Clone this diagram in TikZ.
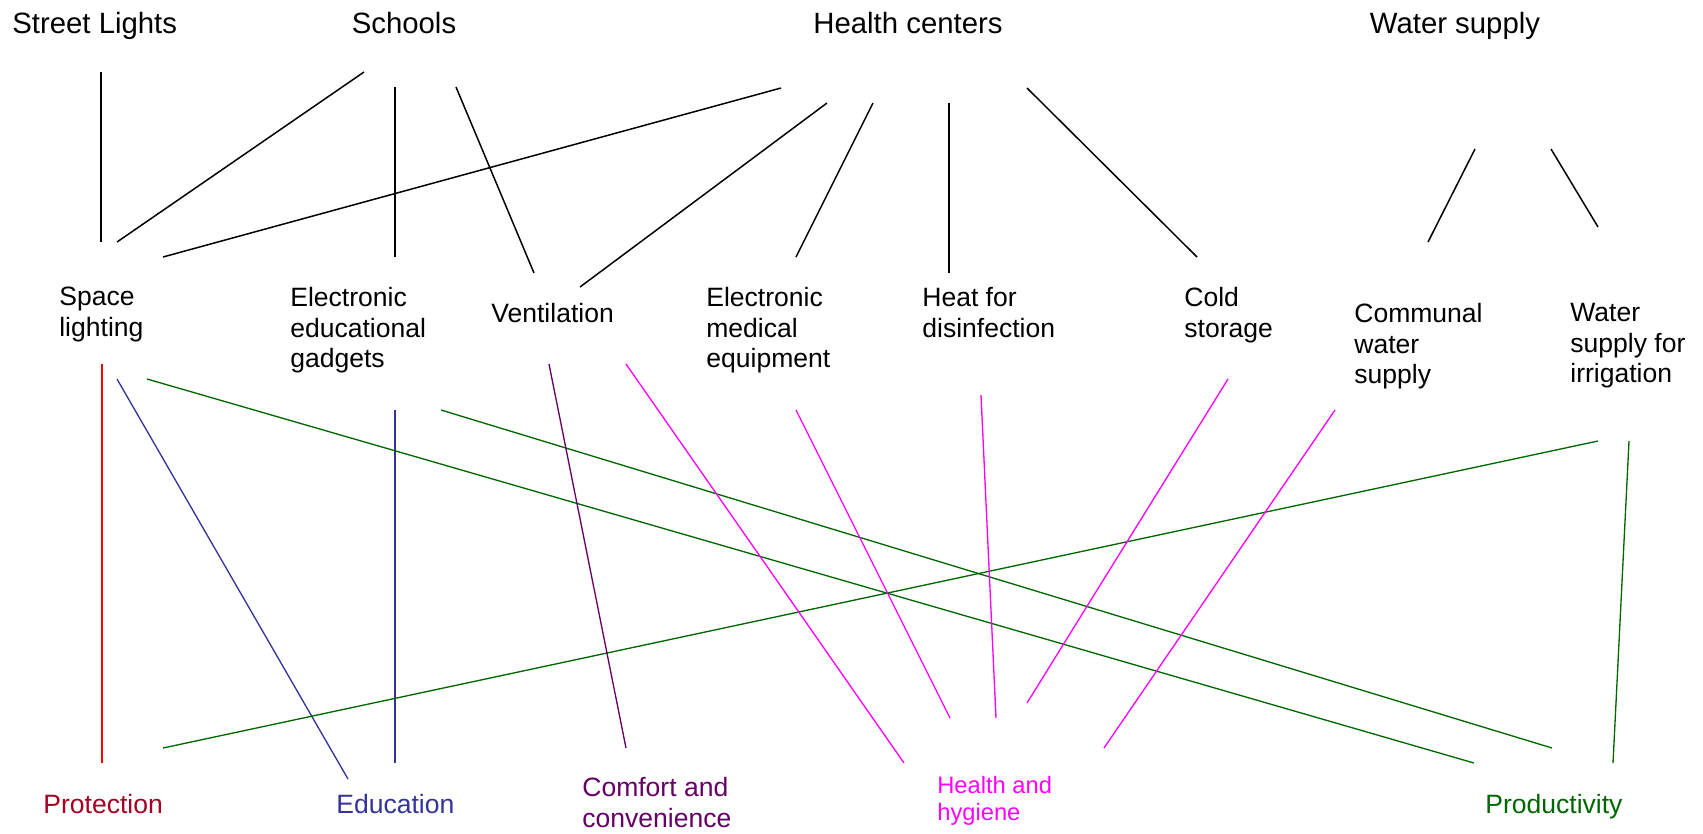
\documentclass[tikz,border=0pt]{standalone}
\usepackage{fontspec}
\setmainfont{Liberation Sans}
\usepackage{tikz}
\definecolor{protred}{RGB}{165,0,33}
\definecolor{edublue}{RGB}{51,51,153}
\definecolor{comfpurple}{RGB}{102,0,102}
\definecolor{hygpink}{RGB}{255,0,255}
\definecolor{prodgreen}{RGB}{0,102,0}

\begin{document}
\begin{tikzpicture}[x=0.02cm, y=-0.02cm,
    source/.style={font=\fontsize{16.7}{19.2}\selectfont, inner sep=0pt, anchor=north},
    usage/.style={font=\fontsize{15.1}{17.4}\selectfont, inner sep=0pt, anchor=north west, align=left},
    benefit/.style={usage},
    tie/.style={line width=0.85pt},
    link/.style={line width=0.75pt}]
    \useasboundingbox (0,0) rectangle (1703,833);

    % facilities
    \node[source, anchor=north west] (lights) at (12,12) {Street Lights};
    \node[source] (schools) at (404,12) {Schools};
    \node[source] (centers) at (908,12) {Health centers};
    \node[source] (water) at (1455,12) {Water supply};

    % energy uses
    \node[usage] (space) at (59,287) {Space\\lighting};
    \node[usage] (gadgets) at (290,287) {Electronic\\educational\\gadgets};
    \node[usage] (vent) at (491,303) {Ventilation};
    \node[usage] (medical) at (706,287) {Electronic\\medical\\equipment};
    \node[usage] (heat) at (922,287) {Heat for\\disinfection};
    \node[usage] (cold) at (1184,287) {Cold\\storage};
    \node[usage] (comm) at (1354,303) {Communal\\water\\supply};
    \node[usage] (irr) at (1570,303) {Water\\supply for\\irrigation};

    % benefits
    \node[benefit, text=protred] (prot) at (43,794) {Protection};
    \node[benefit, text=edublue] (edu) at (336,794) {Education};
    \node[benefit, text=comfpurple] (comf) at (582,777) {Comfort and\\convenience};
    \node[benefit, text=hygpink, font=\fontsize{13.5}{15.4}\selectfont] (hyg) at (937,776) {Health and\\hygiene};
    \node[benefit, text=prodgreen] (prod) at (1485,794) {Productivity};

    % facility -> use
    \foreach \n/\xa/\ya/\xb/\yb in {lights-space/101/72/101/242, schools-space/364/72/117/242,
        schools-gadgets/395/87/395/257, schools-vent/456/87/534/273, centers-space/781/88/163/257,
        centers-vent/827/103/580/287, centers-medical/873/103/796/257, centers-heat/949/103/949/273,
        centers-cold/1027/88/1197/257, water-comm/1475/149/1428/242, water-irr/1551/149/1598/227}{
        \coordinate (\n-a) at (\xa,\ya);
        \coordinate (\n-b) at (\xb,\yb);
        \draw[tie] (\n-a) -- (\n-b);
    }

    % use -> benefit
    \foreach \n/\c/\xa/\ya/\xb/\yb in {space-prot/red/102/364/102/763, space-edu/edublue/117/379/348/779,
        gadgets-edu/edublue/395/410/395/763, space-prod/prodgreen/147/379/1474/763,
        gadgets-prod/prodgreen/441/410/1552/748, irr-prot/prodgreen/1598/441/163/748,
        irr-prod/prodgreen/1629/441/1613/763, vent-comf/comfpurple/549/364/626/748,
        vent-hyg/hygpink/626/364/904/763, medical-hyg/hygpink/796/410/950/718,
        heat-hyg/hygpink/981/395/996/718, cold-hyg/hygpink/1228/379/1027/703,
        comm-hyg/hygpink/1335/410/1104/748}{
        \coordinate (\n-a) at (\xa,\ya);
        \coordinate (\n-b) at (\xb,\yb);
        \draw[link, \c] (\n-a) -- (\n-b);
    }
\end{tikzpicture}
\end{document}
